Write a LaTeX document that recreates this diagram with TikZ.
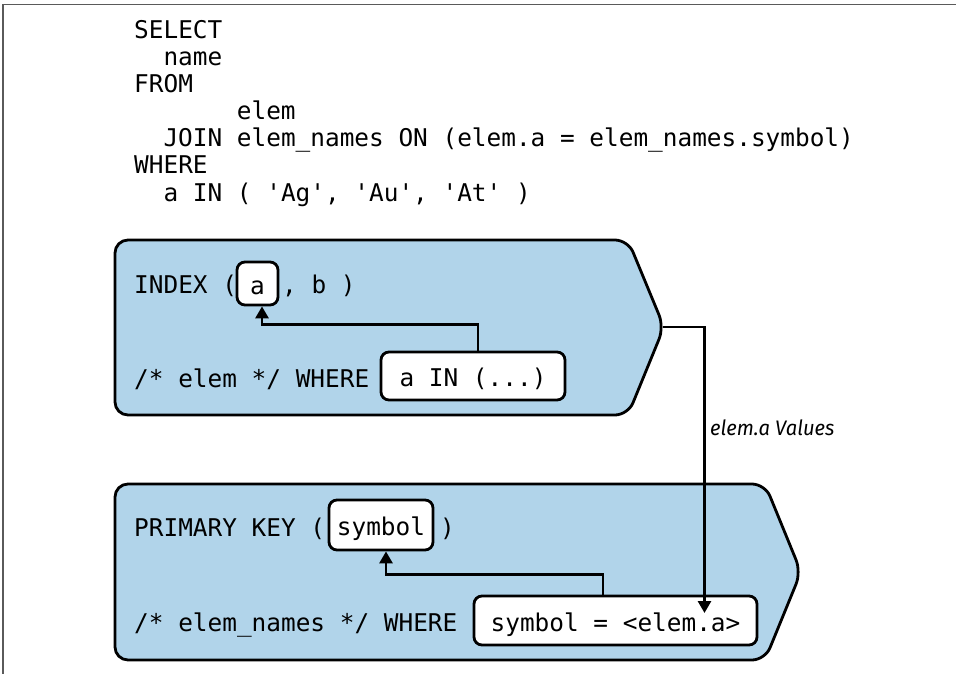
\documentclass[tikz,border=0pt]{standalone}
\usepackage{fontspec}
\setmonofont{DejaVu Sans Mono}
\newfontfamily\labelfont{Fira Sans}
\usetikzlibrary{arrows.meta}
\definecolor{panelblue}{RGB}{177,212,234}
\definecolor{framegray}{RGB}{90,90,90}
\tikzset{
  code/.style={anchor=base west,inner sep=0pt,font=\ttfamily\fontsize{24.4}{27}\selectfont},
  hbox/.style={draw=black,line width=2.8pt,fill=white,rounded corners=8pt,inner sep=0pt,
     font=\ttfamily\fontsize{24.4}{27}\selectfont,text height=21pt,text depth=0pt},
  panel/.style={draw=black,line width=2.8pt,fill=panelblue,rounded corners=13pt,line join=round},
  conn/.style={draw=black,line width=2.8pt,-{Triangle[width=13pt,length=12pt]}},
}
\begin{document}
\begin{tikzpicture}[x=1pt,y=-1pt]
\useasboundingbox (0,0) rectangle (956,674);
% frame
\draw[framegray,line width=1.6pt] (3,674) -- (3,4.5) -- (956,4.5);
% SQL code
\node[code] (c1) at (134,39) {SELECT};
\node[code] (c2) at (134,66) {\hspace*{29.3pt}name};
\node[code] (c3) at (134,93) {FROM};
\node[code] (c4) at (134,120) {\hspace*{102.7pt}elem};
\node[code] (c5) at (134,147) {\hspace*{29.3pt}JOIN elem\_names ON (elem.a = elem\_names.symbol)};
\node[code] (c6) at (134,174) {WHERE};
\node[code] (c7) at (134,201) {\hspace*{29.3pt}a IN ( 'Ag', 'Au', 'At' )};
% upper panel
\draw[panel] (115,240) -- (628,240) -- (664,327) -- (628,415) -- (115,415) -- cycle;
\coordinate (tipU) at (663,327);
% lower panel
\draw[panel] (115,484) -- (765,484) -- (801,572) -- (765,660) -- (115,660) -- cycle;
% upper rows
\node[code] (idx) at (134,293) {INDEX (};
\node[hbox,minimum width=41pt,minimum height=43pt] (abox) at (257.5,283.5) {a};
\node[code] (idx2) at (282,293) {, b )};
\node[code] (w1) at (134,387) {/* elem */ WHERE};
\node[hbox,minimum width=184pt,minimum height=48pt] (ain) at (473,376) {a IN (...)};
% lower rows
\node[code] (pk) at (134,536) {PRIMARY KEY (};
\node[hbox,minimum width=104pt,minimum height=50pt] (sym) at (381,525) {symbol};
\node[code] (pk2) at (440,536) {)};
\node[code] (w2) at (134,631) {/* elem\_names */ WHERE};
\node[hbox,minimum width=283pt,minimum height=49pt] (symeq) at (615.5,620.5) {symbol = <elem.a>};
% connectors
\draw[conn] ([xshift=5pt]ain.north) -- ++(0,-26) -| ([xshift=4.5pt]abox.south);
\draw[conn] ([xshift=-12.5pt]symeq.north) -- ++(0,-20) -| ([xshift=5pt]sym.south);
\coordinate (endA) at (704.5,613);
\draw[conn] (tipU) -| (endA);
\node[anchor=west,inner sep=0pt,font=\labelfont\itshape\fontsize{21}{24}\selectfont] (lbl) at (710,428) {\scalebox{0.96}[1]{elem.a Values}};
\end{tikzpicture}
\end{document}
